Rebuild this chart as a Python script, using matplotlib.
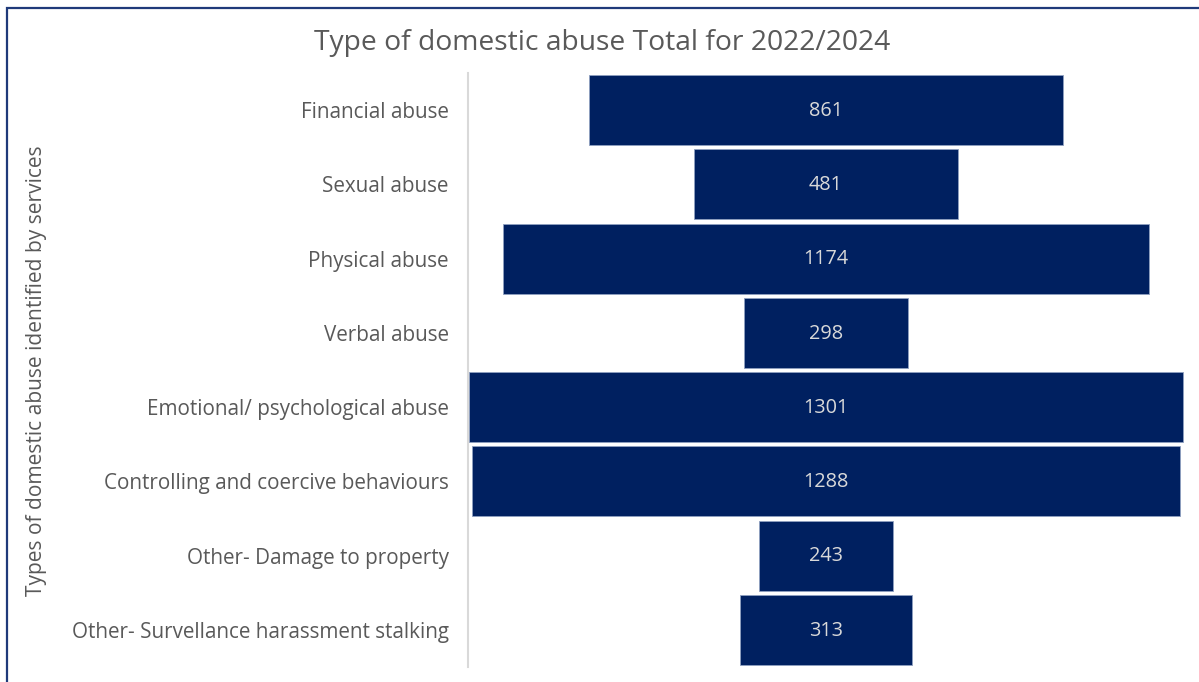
import matplotlib
matplotlib.use("Agg")
import matplotlib.pyplot as plt
from matplotlib.patches import Rectangle

categories = [
    "Financial abuse",
    "Sexual abuse",
    "Physical abuse",
    "Verbal abuse",
    "Emotional/ psychological abuse",
    "Controlling and coercive behaviours",
    "Other- Damage to property",
    "Other- Survellance harassment stalking",
]
values = [861, 481, 1174, 298, 1301, 1288, 243, 313]

title = "Type of domestic abuse Total for 2022/2024"
ylabel = "Types of domestic abuse identified by services"

W, H, DPI = 1199, 682, 100
fig = plt.figure(figsize=(W / DPI, H / DPI), dpi=DPI)
fig.patch.set_facecolor("white")

font = "Open Sans"
text_col = "#595959"
bar_col = "#002060"

ax = fig.add_axes([468 / W, 1 - 667 / H, (1184 - 468) / W, (667 - 73) / H])
n = len(categories)
ypos = list(range(n))
half = max(values) / 2
lefts = [-v / 2 for v in values]
ax.barh(ypos, values, left=lefts, height=0.94, color=bar_col,
        edgecolor="#8FA0C0", linewidth=0.6)
for y, v in zip(ypos, values):
    ax.text(0, y + 0.01, f"{v}", ha="center", va="center", color="#D9D9D9",
            fontsize=14.3, family=font)

ax.set_xlim(-half - 1, half + 1)
ax.set_ylim(n - 0.5, -0.5)
ax.set_yticks(ypos)
ax.set_yticklabels(categories, family=font, fontsize=14.9, color=text_col)
ax.tick_params(axis="y", length=0, pad=14)
ax.set_xticks([])
for s in ["top", "right", "bottom"]:
    ax.spines[s].set_visible(False)
ax.spines["left"].set_color("#D9D9D9")
ax.spines["left"].set_linewidth(1.5)

fig.text(602 / W, 1 - 43 / H, title, ha="center", va="center",
         fontsize=20.3, color=text_col, family=font)
fig.text(37 / W, 1 - 371 / H, ylabel, ha="center", va="center",
         rotation=90, fontsize=15.1, color=text_col, family=font)

# frame visible along the left and top edges
fig.patches.append(Rectangle((6.5 / W, -0.1), 1.2, (1 - 7.5 / H) + 0.1,
                             transform=fig.transFigure, fill=False,
                             edgecolor="#1F3A7A", linewidth=1.6))

fig.savefig("out.png", dpi=DPI, facecolor="white")
